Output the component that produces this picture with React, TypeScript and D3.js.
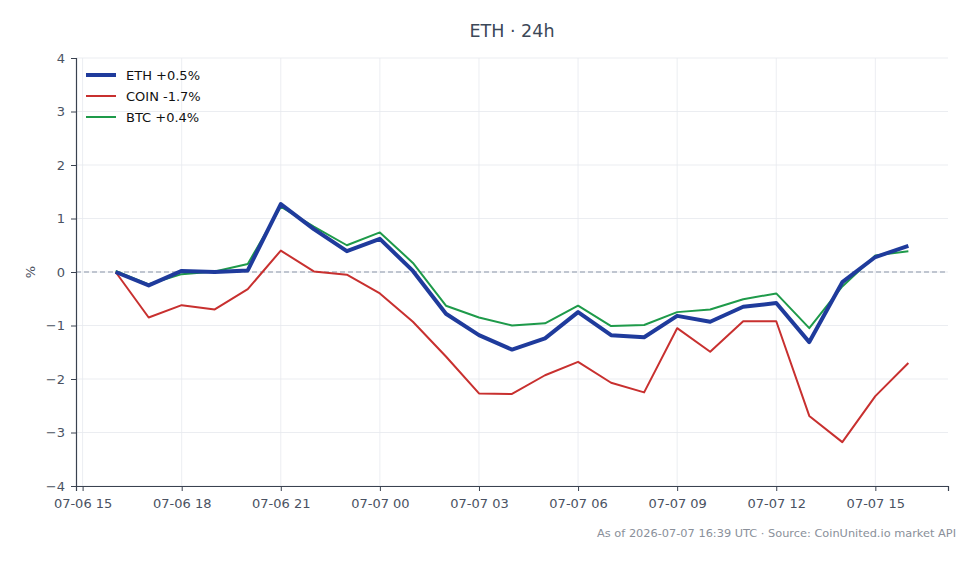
import { useEffect, useRef } from 'react';
import * as d3 from 'd3';

const startTime = Date.UTC(2026, 6, 6, 16, 0);
const hourOffsets = d3.range(0, 25);
const ethValues = [0.0, -0.25, 0.02, 0.0, 0.03, 1.27, 0.8, 0.39, 0.62, 0.02, -0.78, -1.18, -1.45, -1.24, -0.75, -1.18, -1.22, -0.82, -0.93, -0.65, -0.58, -1.31, -0.19, 0.28, 0.49];
const coinValues = [0.0, -0.85, -0.62, -0.7, -0.32, 0.4, 0.01, -0.05, -0.4, -0.93, -1.58, -2.27, -2.28, -1.93, -1.68, -2.07, -2.25, -1.05, -1.49, -0.92, -0.92, -2.69, -3.18, -2.32, -1.7];
const btcValues = [0.02, -0.23, -0.04, 0.01, 0.15, 1.22, 0.85, 0.5, 0.74, 0.17, -0.63, -0.85, -1.0, -0.96, -0.63, -1.01, -0.99, -0.75, -0.7, -0.51, -0.4, -1.05, -0.27, 0.31, 0.39];
const yTicks = [-4, -3, -2, -1, 0, 1, 2, 3, 4];
const legendLabels = ['ETH +0.5%', 'COIN -1.7%', 'BTC +0.4%'];

const series = [
  { name: legendLabels[0], values: ethValues, color: '#1f3b9c', width: 4 },
  { name: legendLabels[1], values: coinValues, color: '#c8302f', width: 2 },
  { name: legendLabels[2], values: btcValues, color: '#1e9a4a', width: 2 },
];

const WIDTH = 980;
const HEIGHT = 564;
const FONT = '"DejaVu Sans", sans-serif';

export default function App() {
  const svgRef = useRef<SVGSVGElement>(null);

  useEffect(() => {
    if (!svgRef.current) return;
    const svg = d3.select(svgRef.current);
    svg.selectAll('*').remove();

    const margin = { top: 58, right: 32, bottom: 78, left: 76 };
    const innerWidth = WIDTH - margin.left - margin.right;
    const innerHeight = HEIGHT - margin.top - margin.bottom;

    const times = hourOffsets.map(h => new Date(startTime + h * 3600e3));
    const pad = 1.2 * 3600e3;

    const x = d3.scaleUtc()
      .domain([new Date(startTime - pad), new Date(startTime + 24 * 3600e3 + pad)])
      .range([0, innerWidth]);
    const y = d3.scaleLinear().domain([-4, 4]).range([innerHeight, 0]);

    const xTicks = d3.range(0, 9).map(i => new Date(startTime + (i * 3 - 1) * 3600e3));
    const fmt = d3.utcFormat('%m-%d %H');

    const g = svg.append('g').attr('transform', `translate(${margin.left}, ${margin.top})`);

    // grid
    g.append('g').selectAll('line').data(yTicks).enter().append('line')
      .attr('x1', 0).attr('x2', innerWidth)
      .attr('y1', d => y(d)).attr('y2', d => y(d))
      .attr('stroke', '#e6e9ee').attr('stroke-width', 0.8);
    g.append('g').selectAll('line').data(xTicks).enter().append('line')
      .attr('x1', d => x(d)).attr('x2', d => x(d))
      .attr('y1', 0).attr('y2', innerHeight)
      .attr('stroke', '#e6e9ee').attr('stroke-width', 0.8);

    // zero line
    g.append('line')
      .attr('x1', 0).attr('x2', innerWidth)
      .attr('y1', y(0)).attr('y2', y(0))
      .attr('stroke', '#8a95a8').attr('stroke-width', 1)
      .attr('stroke-dasharray', '5,3');

    // lines
    const line = d3.line<number>()
      .x((_, i) => x(times[i]))
      .y(d => y(d));

    [series[1], series[2], series[0]].forEach(s => {
      g.append('path')
        .datum(s.values)
        .attr('fill', 'none')
        .attr('stroke', s.color)
        .attr('stroke-width', s.width)
        .attr('stroke-linejoin', 'round')
        .attr('d', line);
    });

    // axes
    const axisColor = '#3a4250';
    const xAxis = g.append('g')
      .attr('transform', `translate(0, ${innerHeight})`)
      .call(d3.axisBottom(x).tickValues(xTicks).tickFormat(d => fmt(d as Date)).tickSizeOuter(0).tickSize(5).tickPadding(8));
    const yAxis = g.append('g')
      .call(d3.axisLeft(y).tickValues(yTicks).tickFormat(d => String(d).replace('-', '\u2212')).tickSizeOuter(0).tickSize(5).tickPadding(6));

    [xAxis, yAxis].forEach(a => {
      a.select('.domain').attr('stroke', axisColor).attr('stroke-width', 1.2);
      a.selectAll('.tick line').attr('stroke', axisColor).attr('stroke-width', 1);
      a.selectAll('.tick text')
        .attr('fill', '#4a5262')
        .style('font-family', FONT)
        .style('font-size', '13px');
    });

    // y label
    svg.append('text')
      .attr('transform', `translate(35, ${margin.top + y(0)}) rotate(-90)`)
      .attr('text-anchor', 'middle')
      .attr('fill', '#4a5262')
      .style('font-family', FONT)
      .style('font-size', '13px')
      .text('%');

    // title
    svg.append('text')
      .attr('x', margin.left + innerWidth / 2)
      .attr('y', 37)
      .attr('text-anchor', 'middle')
      .attr('fill', '#3c4858')
      .style('font-family', FONT)
      .style('font-size', '17.5px')
      .text('ETH · 24h');

    // legend
    const legend = svg.append('g').attr('transform', `translate(86, 75)`);
    series.forEach((s, i) => {
      const row = legend.append('g').attr('transform', `translate(0, ${i * 21})`);
      row.append('line')
        .attr('x1', 0).attr('x2', 30)
        .attr('y1', 0).attr('y2', 0)
        .attr('stroke', s.color)
        .attr('stroke-width', s.width);
      row.append('text')
        .attr('x', 40).attr('y', 0)
        .attr('dy', '0.35em')
        .attr('fill', '#111')
        .style('font-family', FONT)
        .style('font-size', '13px')
        .text(s.name);
    });

    // footer
    svg.append('text')
      .attr('x', 956)
      .attr('y', 537)
      .attr('text-anchor', 'end')
      .attr('fill', '#8a909a')
      .style('font-family', FONT)
      .style('font-size', '11.35px')
      .text('As of 2026-07-07 16:39 UTC · Source: CoinUnited.io market API');
  }, []);

  return (
    <svg
      ref={svgRef}
      width={WIDTH}
      height={HEIGHT}
      style={{ position: 'absolute', left: 0, top: 0, background: '#fff' }}
    />
  );
}
